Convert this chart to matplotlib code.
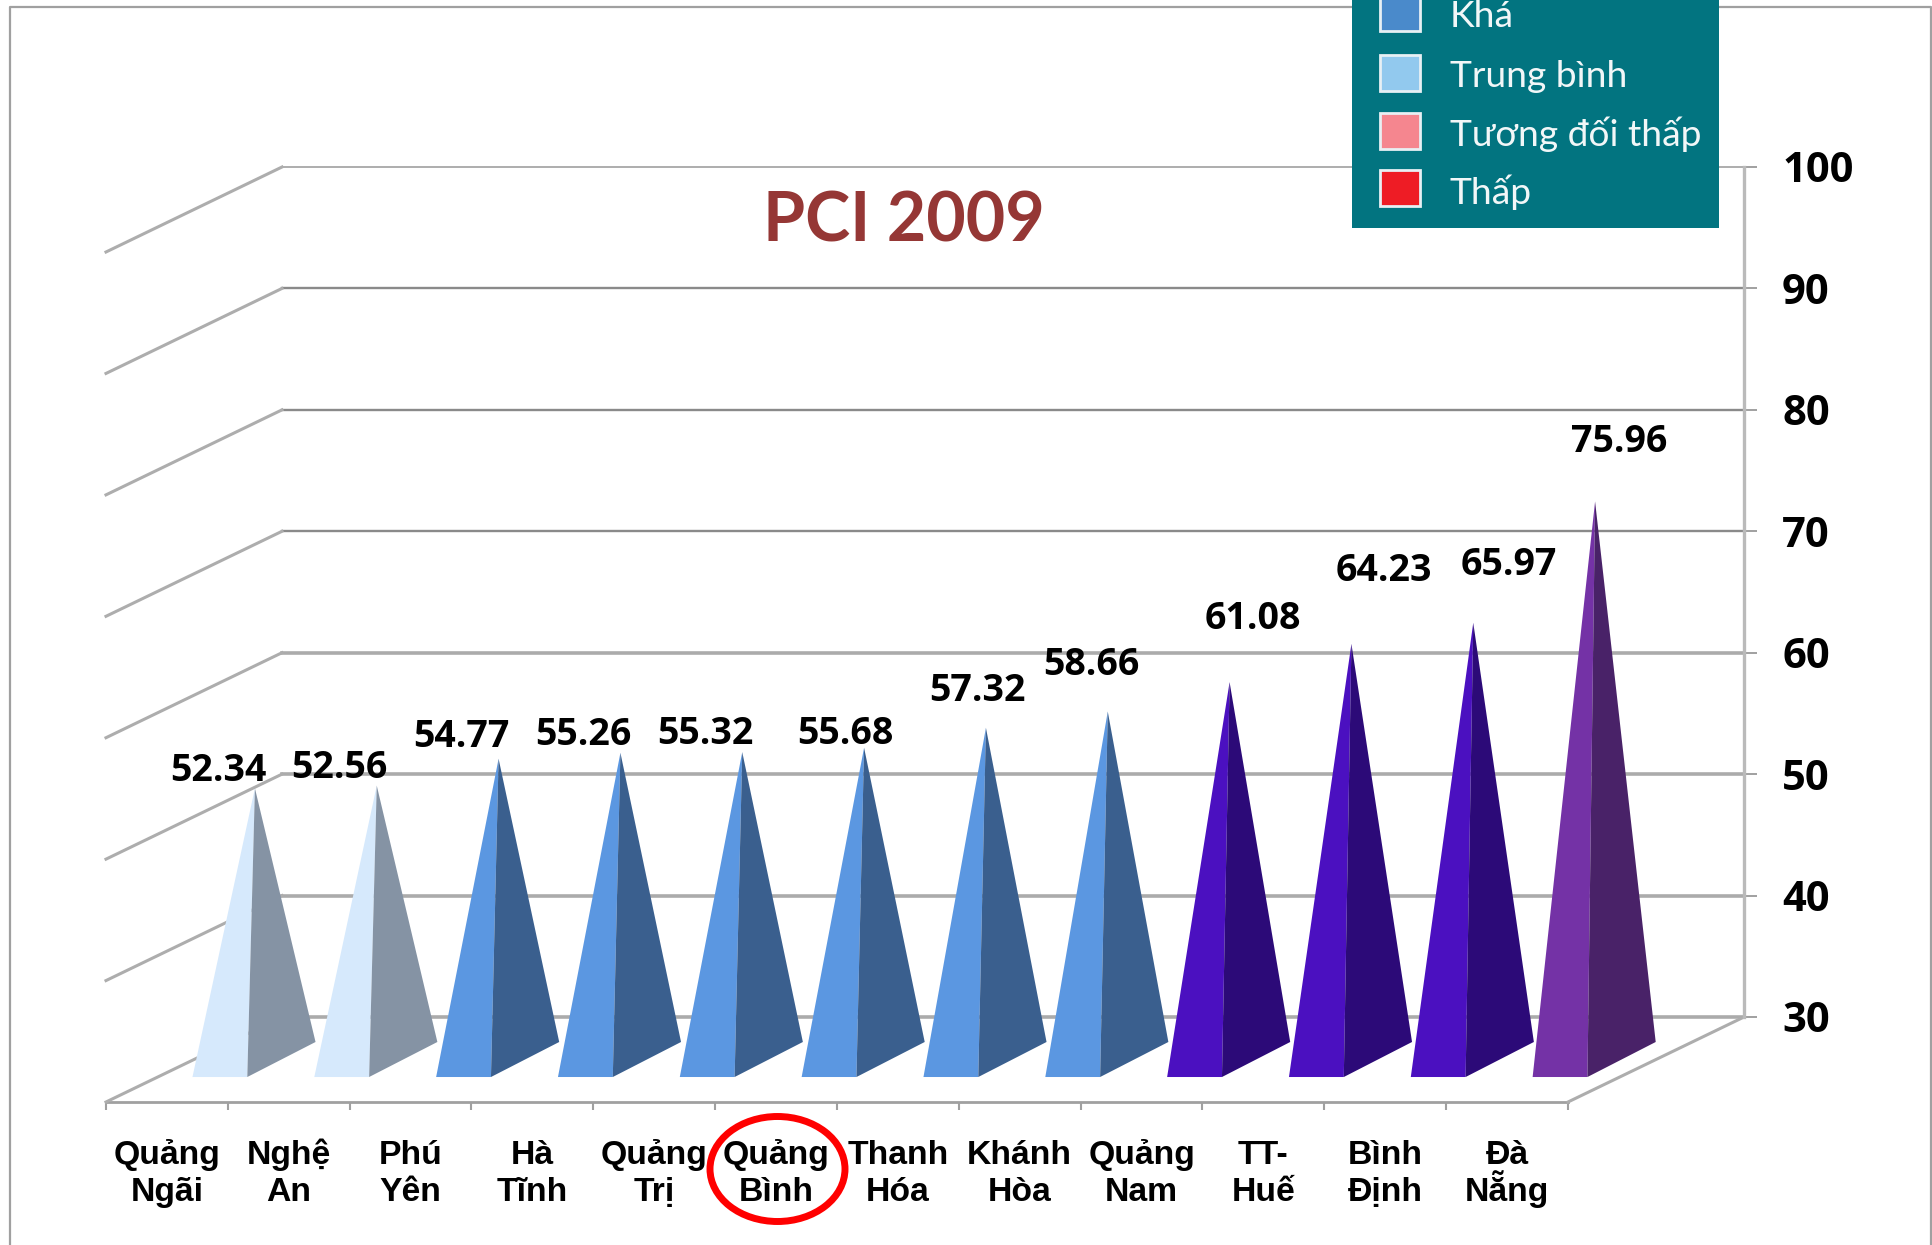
import matplotlib
matplotlib.use("Agg")
import matplotlib.pyplot as plt
from matplotlib.patches import Polygon, Rectangle, Ellipse
from matplotlib.lines import Line2D

# ---- data ----
provinces_line1 = ["Quảng", "Nghệ", "Phú", "Hà", "Quảng", "Quảng",
                   "Thanh", "Khánh", "Quảng", "TT-", "Bình", "Đà"]
provinces_line2 = ["Ngãi", "An", "Yên", "Tĩnh", "Trị", "Bình",
                   "Hóa", "Hòa", "Nam", "Huế", "Định", "Nẵng"]
scores = [52.34, 52.56, 54.77, 55.26, 55.32, 55.68, 57.32, 58.66, 61.08, 64.23, 65.97, 75.96]
score_text = ["52.34", "52.56", "54.77", "55.26", "55.32", "55.68",
              "57.32", "58.66", "61.08", "64.23", "65.97", "75.96"]
y_ticks = [30, 40, 50, 60, 70, 80, 90, 100]
legend_labels = ["Khá", "Trung bình", "Tương đối thấp", "Thấp"]
title_text = "PCI 2009"

# ---- style / layout ----
W, H = 1933, 1245
left_faces = ["#D6E9FC"] * 2 + ["#5B97E1"] * 6 + ["#4B10C0"] * 3 + ["#7432A6"]
right_faces = ["#8593A4"] * 2 + ["#3A5F8E"] * 6 + ["#2C0A78"] * 3 + ["#492268"]
legend_colors = ["#4A8ACB", "#92C9EE", "#F5868F", "#EE1C25"]
label_dx = [-37, -37, -37, -37, -37, -19, -8, -16, 23, 32, 36, 24]   # px from the tip
label_dy = [17, 18, 22, 18, 18, 14, 37, 46, 63, 73, 58, 59]          # px above the tip
NUM_FONT = ["Open Sans", "DejaVu Sans"]
LEG_FONT = ["Lato", "Noto Sans", "DejaVu Sans"]

BACK_L, BACK_R, Y30, Y100 = 282, 1744, 1017, 167
DEPTH_X, DEPTH_Y = 176, 85
FRONT_D, REAR_D, MID_D = 0.294, 0.706, 0.5
FRONT_LEFT, FRONT_RIGHT, REAR_RIGHT = 0.215, 0.235, 0.20

fig = plt.figure(figsize=(W / 100, H / 100), dpi=100, facecolor="white")


def box(x0, y_top, x1, y_bot):
    return [x0 / W, 1 - y_bot / H, (x1 - x0) / W, (y_bot - y_top) / H]


# back wall axes: holds the value scale
ax = fig.add_axes(box(BACK_L, Y100, BACK_R, Y30), facecolor="none", zorder=2)
n = len(scores)
ax.set_xlim(0, n)
ax.set_ylim(min(y_ticks), max(y_ticks))
ax.set_xticks([])
ax.set_yticks(y_ticks)
ax.yaxis.tick_right()
ax.tick_params(axis="y", length=9.4, width=1.4, color="#A0A0A0", pad=18, labelsize=30)
for lab in ax.get_yticklabels():
    lab.set_fontfamily(NUM_FONT)
    lab.set_fontweight("bold")
    lab.set_color("black")
for s in ["top", "left", "bottom"]:
    ax.spines[s].set_visible(False)
ax.spines["right"].set_color("#BABABA")
ax.spines["right"].set_linewidth(2.4)

ux = (BACK_R - BACK_L) / n
uy = (Y30 - Y100) / (max(y_ticks) - min(y_ticks))


def project(x, y, d):
    """Oblique 3-D projection: d=1 at the back wall, d=0 at the front."""
    return (x - (1 - d) * DEPTH_X / ux, y - (1 - d) * DEPTH_Y / uy)


SIDE = dict(color="#ADADAD", lw=2.2, zorder=1, clip_on=False)
for v in y_ticks:
    if v == 100:
        grid_col, grid_lw = "#A0A0A0", 1.2
    elif v >= 70:
        grid_col, grid_lw = "#8A8A8A", 1.7
    else:
        grid_col, grid_lw = "#ABABAB", 2.6
    ax.plot([0, n], [v, v], color=grid_col, lw=grid_lw, zorder=1, clip_on=False)
    a, b = project(0, v, 1), project(0, v, 0)
    ax.plot([a[0], b[0]], [a[1], b[1]], **SIDE)
a, b = project(n, min(y_ticks), 1), project(n, min(y_ticks), 0)
ax.plot([a[0], b[0]], [a[1], b[1]], **SIDE)

# pyramids
base = min(y_ticks)
for i, v in enumerate(scores):
    c = i + 0.5
    tip = project(c, v, MID_D)
    fl = project(c - FRONT_LEFT, base, FRONT_D)
    fr = project(c + FRONT_RIGHT, base, FRONT_D)
    rr = project(c + REAR_RIGHT, base, REAR_D)
    ax.add_patch(Polygon([fl, fr, tip], closed=True, fc=left_faces[i], ec="none", zorder=3, clip_on=False))
    ax.add_patch(Polygon([fr, rr, tip], closed=True, fc=right_faces[i], ec="none", zorder=3, clip_on=False))
    ax.annotate(score_text[i], xy=tip, xycoords="data",
                xytext=(label_dx[i] * 0.72, label_dy[i] * 0.72), textcoords="offset points",
                ha="center", va="center", fontsize=27, fontweight="bold",
                family=NUM_FONT, color="black", zorder=5, annotation_clip=False)

# front plane axes: holds the category axis
ax_f = fig.add_axes(box(BACK_L - DEPTH_X, Y100 + DEPTH_Y, BACK_R - DEPTH_X, Y30 + DEPTH_Y),
                    facecolor="none", zorder=1)
ax_f.set_xlim(0, n)
ax_f.set_ylim(min(y_ticks), max(y_ticks))
ax_f.set_yticks([])
ax_f.set_xticks(range(n + 1))
ax_f.set_xticklabels([])
ax_f.tick_params(axis="x", which="major", length=6, width=1.5, color="#A0A0A0")
for s in ["top", "left", "right"]:
    ax_f.spines[s].set_visible(False)
ax_f.spines["bottom"].set_color("#A0A0A0")
ax_f.spines["bottom"].set_linewidth(2.0)
xt = ax_f.get_xaxis_transform()
for i, (l1, l2) in enumerate(zip(provinces_line1, provinces_line2)):
    for txt, off in ((l1, -62), (l2, -99)):
        ax_f.annotate(txt, xy=(i + 0.5, 0), xycoords=xt,
                      xytext=(0, off * 0.72), textcoords="offset points",
                      ha="center", va="baseline", fontsize=24.3, fontweight="bold",
                      family="Liberation Sans", color="black", annotation_clip=False)

# overlay in picture pixels: frame, title, legend panel, highlight ring
ov = fig.add_axes([0, 0, 1, 1], facecolor="none", zorder=4)
ov.set_xlim(0, W)
ov.set_ylim(H, 0)
ov.axis("off")
ov.add_line(Line2D([10, 10, 1931, 1931], [H, 7, 7, H], color="#A0A0A0", lw=1.6, zorder=1))
ov.text(904, 222, title_text, ha="center", va="center", fontsize=49, fontweight="bold",
        family=["Lato", "Open Sans"], color="#953735")
ov.add_patch(Rectangle((1352, 0), 367, 228, fc="#027480", ec="none", zorder=2))
sw_top = [-5, 55, 113, 170]
txt_base = [27, 87, 146, 204]
for lab, col, t, b in zip(legend_labels, legend_colors, sw_top, txt_base):
    ov.add_patch(Rectangle((1380, t), 40, 36, fc=col, ec="#E8F0F4", lw=2.0, zorder=3))
    ov.text(1450, b, lab, ha="left", va="baseline", fontsize=26.7, color="#F2F7F8",
            family=LEG_FONT, zorder=4)
ov.add_patch(Ellipse((777.5, 1169), 135, 105, fc="none", ec="#FF0000", lw=5.0))

fig.savefig("out.png", dpi=100)
